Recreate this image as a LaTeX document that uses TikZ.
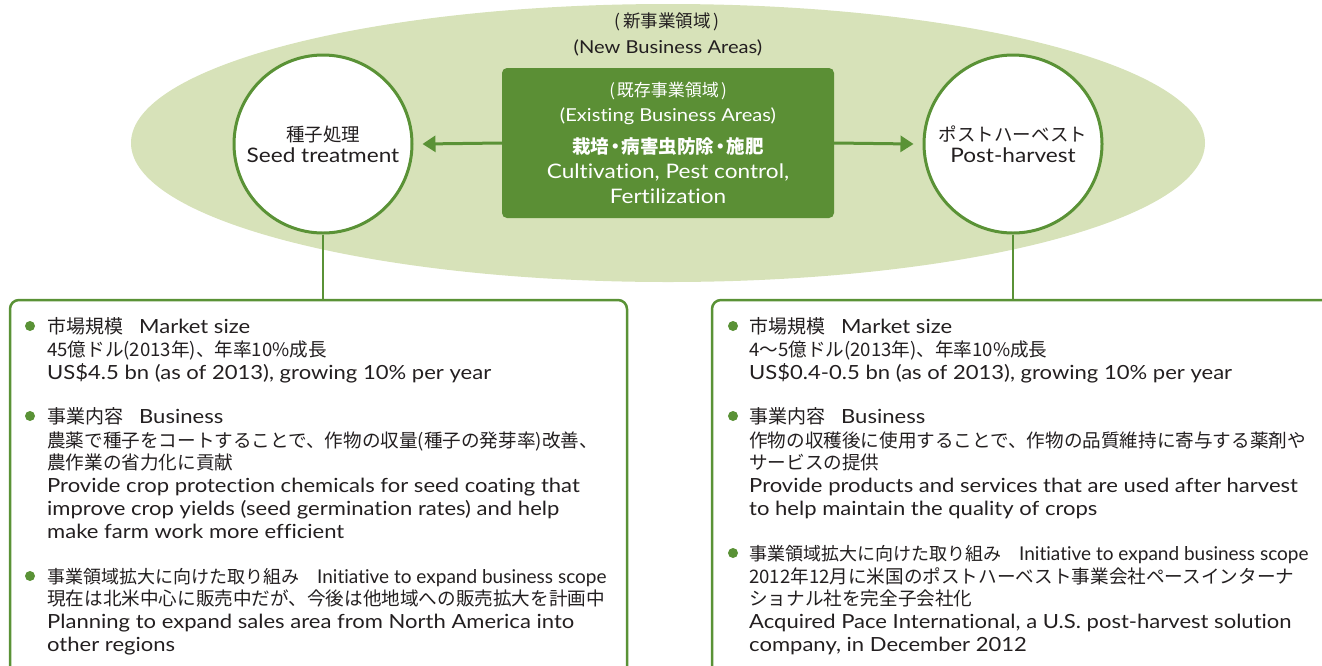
\documentclass[tikz,border=0pt]{standalone}
\usepackage{fontspec}
\setmainfont{Lato}[FakeStretch=1.13, Ligatures=NoCommon]
\newfontfamily\jp{Noto Sans CJK JP}
\newfontfamily\cond{Lato}[Ligatures=NoCommon]
\usetikzlibrary{arrows.meta}
\definecolor{dkgreen}{HTML}{5A9236}
\definecolor{boxgreen}{HTML}{5B8F35}
\definecolor{lightgreen}{HTML}{D7E2B9}
\definecolor{txt}{HTML}{231F20}
\tikzset{
  circ/.style={circle, draw=dkgreen, line width=3pt, fill=white, minimum size=178pt, inner sep=0pt, align=center, text=txt},
  panel/.style={draw=dkgreen, line width=2.5pt, rounded corners=9pt},
  conn/.style={draw=dkgreen, line width=2.5pt},
  arr/.style={draw=dkgreen, line width=3pt, -{Triangle[length=13pt,width=16pt]}},
  bl/.style={anchor=base west, inner sep=0pt, font=\fontsize{19.5}{22}\selectfont, text=txt},
  jl/.style={anchor=base west, inner sep=0pt, font=\jp\fontsize{18.6}{22}\selectfont, text=txt},
  hl/.style={anchor=base west, inner sep=0pt, font=\fontsize{19.5}{22}\selectfont, text=txt},
  bul/.style={circle, fill=dkgreen, inner sep=0pt, minimum size=10pt},
  wt/.style={text=white, inner sep=0pt},
}
\begin{document}
\begin{tikzpicture}[x=1pt,y=-1pt]
\useasboundingbox (0,0) rectangle (1322,665);
\clip (0,0) rectangle (1322,665);
% background ellipse
\fill[lightgreen] (668,143) ellipse [x radius=537, y radius=139];
\node[inner sep=0pt, text=txt, font=\jp\fontsize{17.5}{20}\selectfont] (newjp) at (667,22) {(\kern3pt新事業領域\kern3pt)};
\node[inner sep=0pt, text=txt, font=\fontsize{17.8}{20}\selectfont] (newen) at (668,48) {(New Business Areas)};
% core box
\node[fill=boxgreen, rounded corners=5pt, minimum width=332pt, minimum height=150pt, inner sep=0pt] (core) at (668,143) {};
\node[wt, font=\jp\fontsize{17}{20}\selectfont] (c1) at (668,91) {(\kern2pt既存事業領域\kern2pt)};
\node[wt, font=\fontsize{17.8}{20}\selectfont] (c2) at (668,116) {(Existing Business Areas)};
\node[wt, font=\jp\bfseries\fontsize{18.5}{20}\selectfont] (c3) at (668,147) {栽培\kern-3pt・\kern-3pt病害虫防除\kern-3pt・\kern-3pt施肥};
\node[wt, font=\fontsize{20}{22}\selectfont] (c4) at (668,172) {Cultivation, Pest control,};
\node[wt, font=\fontsize{20}{22}\selectfont] (c5) at (668,196) {Fertilization};
% circles
\node[circ] (lc) at (323,144) {{\jp\fontsize{18.5}{24}\selectfont 種子処理}\\[4pt]{\fontsize{20}{24}\selectfont Seed treatment}};
\node[circ] (rc) at (1013,144) {{\jp\fontsize{18.5}{24}\selectfont ポストハーベスト}\\[4pt]{\fontsize{20}{24}\selectfont Post-harvest}};
% arrows
\draw[arr] (core.west) -- ([xshift=9pt]lc.east);
\draw[arr] (core.east) -- ([xshift=-9pt]rc.west);
% panels
\node[panel, minimum width=617pt, minimum height=400pt] (lp) at (318.5,500) {};
\node[panel, minimum width=628pt, minimum height=400pt] (rp) at (1026,500) {};
\draw[conn] (lc.south) -- (lc.south |- lp.north);
\draw[conn] (rc.south) -- (rc.south |- rp.north);
% left panel text
\node[bul] (lb1) at (30,326) {};
\node[bul] (lb2) at (30,416) {};
\node[bul] (lb3) at (30,576) {};
\node[hl] (l1) at (47,333) {{\jp\fontsize{19}{22}\selectfont 市場規模}\hspace{16pt}Market size};
\node[jl] (l2) at (47,356) {45億ドル(2013年)、年率10\%成長};
\node[bl] (l3) at (47,379) {US\$4.5 bn (as of 2013), growing 10\% per year};
\node[hl] (l4) at (47,423) {{\jp\fontsize{19}{22}\selectfont 事業内容}\hspace{16pt}Business};
\node[jl] (l5) at (47,447) {農薬で種子をコートすることで、作物の収量(種子の発芽率)改善、};
\node[jl] (l6) at (47,469) {農作業の省力化に貢献};
\node[bl] (l7) at (47,492) {Provide crop protection chemicals for seed coating that};
\node[bl] (l8) at (47,515) {improve crop yields (seed germination rates) and help};
\node[bl] (l9) at (47,538) {make farm work more efficient};
\node[hl] (l10) at (47,583) {{\jp\fontsize{18}{22}\selectfont 事業領域拡大に向けた取り組み}\hspace{18pt}{\cond\fontsize{19}{22}\selectfont Initiative to expand business scope}};
\node[jl] (l11) at (47,605) {現在は北米中心に販売中だが、今後は他地域への販売拡大を計画中};
\node[bl] (l12) at (47,628) {Planning to expand sales area from North America into};
\node[bl] (l13) at (47,651) {other regions};
% right panel text
\node[bul] (rb1) at (733,326) {};
\node[bul] (rb2) at (733,416) {};
\node[bul] (rb3) at (733,553) {};
\node[hl] (r1) at (749,333) {{\jp\fontsize{19}{22}\selectfont 市場規模}\hspace{16pt}Market size};
\node[jl] (r2) at (749,356) {4〜5億ドル(2013年)、年率10\%成長};
\node[bl] (r3) at (749,379) {US\$0.4-0.5 bn (as of 2013), growing 10\% per year};
\node[hl] (r4) at (749,423) {{\jp\fontsize{19}{22}\selectfont 事業内容}\hspace{16pt}Business};
\node[jl] (r5) at (749,447) {作物の収穫後に使用することで、作物の品質維持に寄与する薬剤や};
\node[jl] (r6) at (749,469) {サービスの提供};
\node[bl] (r7) at (749,492) {Provide products and services that are used after harvest};
\node[bl] (r8) at (749,515) {to help maintain the quality of crops};
\node[hl] (r9) at (749,560) {{\jp\fontsize{18}{22}\selectfont 事業領域拡大に向けた取り組み}\hspace{18pt}{\cond\fontsize{19}{22}\selectfont Initiative to expand business scope}};
\node[jl] (r10) at (749,583) {2012年12月に米国のポストハーベスト事業会社ペースインターナ};
\node[jl] (r11) at (749,605) {ショナル社を完全子会社化};
\node[bl] (r12) at (749,628) {Acquired Pace International, a U.S. post-harvest solution};
\node[bl] (r13) at (749,651) {company, in December 2012};
\end{tikzpicture}
\end{document}
